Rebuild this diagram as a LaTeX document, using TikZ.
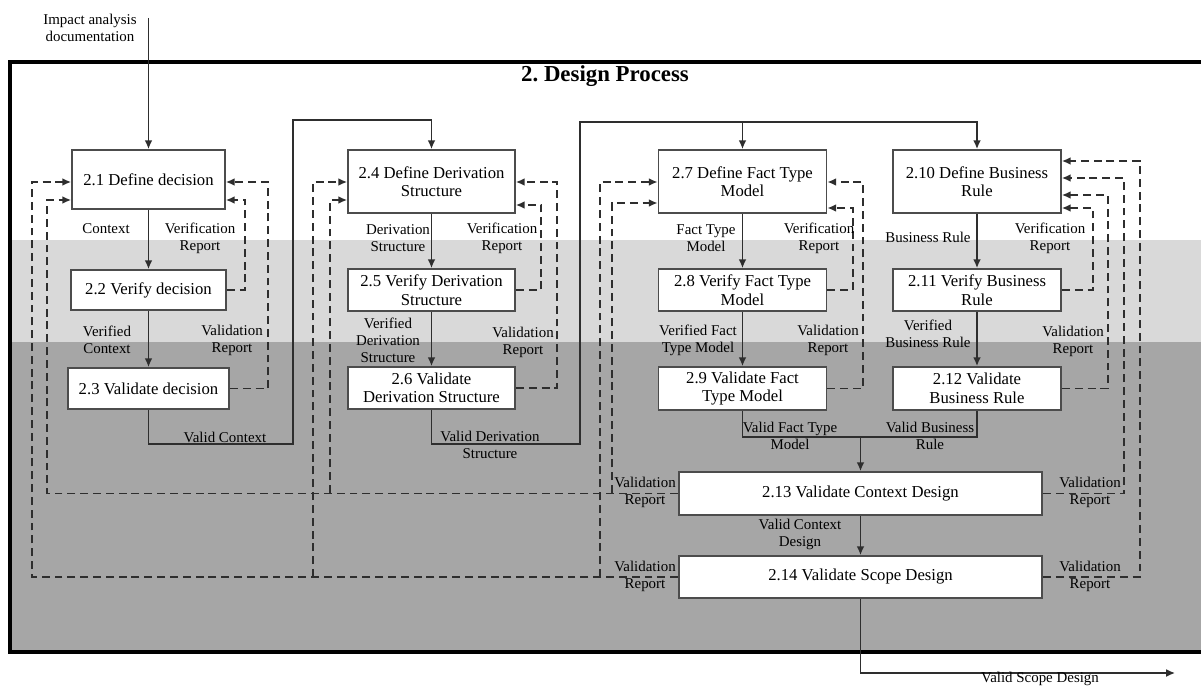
\documentclass[tikz,border=0pt]{standalone}
\usepackage{fontspec}
\setmainfont{Liberation Serif}
\usetikzlibrary{arrows.meta}
\definecolor{lightband}{HTML}{D9D9D9}
\definecolor{darkband}{HTML}{A6A6A6}
\definecolor{linegray}{HTML}{2E2E2E}
\tikzset{procbox/.style={draw=black!70,line width=1.1pt,fill=white,align=center,inner sep=0pt,
                         font=\fontsize{9.5}{10.5}\selectfont},
         lbl/.style={align=center,inner sep=0pt,font=\fontsize{8.5}{9.6}\selectfont},
         flowline/.style={draw=linegray,line width=0.85pt},
         flow/.style={flowline,-{Latex[length=5pt,width=4.5pt]}},
         feedback/.style={flow,dash pattern=on 4.5pt off 2.8pt},
         }
\begin{document}
\begin{tikzpicture}[x=0.02cm,y=-0.02cm]
\useasboundingbox (0,0) rectangle (1201,686);
% bands and frame
\fill[lightband] (10,240) rectangle (1210,342);
\fill[darkband] (10,342) rectangle (1210,652);
\draw[line width=2pt] (10,62) rectangle (1215,652);
\node[font=\bfseries\fontsize{13}{15}\selectfont] (title) at (605,76) {2.\ Design Process};
% process boxes
\node[procbox,minimum width=3.06cm,minimum height=1.18cm] (p21) at (148.5,179.5) {2.1 Define decision};
\node[procbox,minimum width=3.10cm,minimum height=0.80cm] (p22) at (148.5,290) {2.2 Verify decision};
\node[procbox,minimum width=3.22cm,minimum height=0.82cm] (p23) at (148.5,388.5) {2.3 Validate decision};
\node[procbox,minimum width=3.34cm,minimum height=1.26cm] (p24) at (431.5,181.5) {2.4 Define Derivation\\Structure};
\node[procbox,minimum width=3.34cm,minimum height=0.84cm] (p25) at (431.5,290) {2.5 Verify Derivation\\Structure};
\node[procbox,minimum width=3.34cm,minimum height=0.84cm] (p26) at (431.5,388) {2.6 Validate\\Derivation Structure};
\node[procbox,minimum width=3.36cm,minimum height=1.26cm] (p27) at (742.5,181.5) {2.7 Define Fact Type\\Model};
\node[procbox,minimum width=3.36cm,minimum height=0.84cm] (p28) at (742.5,290) {2.8 Verify Fact Type\\Model};
\node[procbox,minimum width=3.36cm,minimum height=0.86cm] (p29) at (742.5,388.5) {2.9 Validate Fact\\Type Model};
\node[procbox,minimum width=3.36cm,minimum height=1.26cm] (p210) at (977,181.5) {2.10 Define Business\\Rule};
\node[procbox,minimum width=3.36cm,minimum height=0.84cm] (p211) at (977,290) {2.11 Verify Business\\Rule};
\node[procbox,minimum width=3.36cm,minimum height=0.86cm] (p212) at (977,388.5) {2.12 Validate\\Business Rule};
\node[procbox,minimum width=7.26cm,minimum height=0.86cm] (p213) at (860.5,493.5) {2.13 Validate Context Design};
\node[procbox,minimum width=7.26cm,minimum height=0.84cm] (p214) at (860.5,577) {2.14 Validate Scope Design};
% input and output
\node[lbl] (input) at (90,28) {Impact analysis\\documentation};
\coordinate (inp) at (148.5,18);
\coordinate (outp) at (1175,673);
\draw[flow] (inp) -- (p21.north);
% main flow
\draw[flow] (p21) -- (p22);
\draw[flow] (p22) -- (p23);
\draw[flow] (p23.south) |- (293,444) |- (p24.north |- 0,120) -- (p24.north);
\draw[flow] (p24) -- (p25);
\draw[flow] (p25) -- (p26);
\draw[flow] (p26.south) |- (580,444) |- (p210.north |- 0,122) -- (p210.north);
\draw[flow] (p27.north |- 0,122) -- (p27.north);
\draw[flow] (p27) -- (p28);
\draw[flow] (p28) -- (p29);
\draw[flow] (p210) -- (p211);
\draw[flow] (p211) -- (p212);
\draw[flowline] (p29.south) |- (p212.south |- 0,437) -- (p212.south);
\draw[flow] (p213.north |- 0,437) -- (p213.north);
\draw[flow] (p213) -- (p214);
\draw[flow] (p214.south) |- (outp);
% feedback loops
\draw[feedback] (p22.east) -| (245,200) -- (p21.east |- 0,200);
\draw[feedback] (p23.east) -| (268,182) -- (p21.east |- 0,182);
\draw[feedback] (p25.east) -| (541,205) -- (p24.east |- 0,205);
\draw[feedback] (p26.east) -| (557,182) -- (p24.east |- 0,182);
\draw[feedback] (p28.east) -| (853,208) -- (p27.east |- 0,208);
\draw[feedback] (p29.east) -| (863,182) -- (p27.east |- 0,182);
\draw[feedback] (p211.east) -| (1093,208) -- (p210.east |- 0,208);
\draw[feedback] (p212.east) -| (1108,195) -- (p210.east |- 0,195);
\draw[feedback] (p213.east) -| (1124,178) -- (p210.east |- 0,178);
\draw[feedback] (p214.east) -| (1140,161) -- (p210.east |- 0,161);
\coordinate (ctxa) at (330,493);
\coordinate (ctxb) at (612,493);
\coordinate (scpa) at (313,577);
\coordinate (scpb) at (600,577);
\draw[feedback] (p213.west) -| (47,350) |- (p21.west |- 0,200);
\draw[feedback] (ctxa) |- (p24.west |- 0,200);
\draw[feedback] (ctxb) |- (p27.west |- 0,203);
\draw[feedback] (p214.west) -| (32,350) |- (p21.west |- 0,182);
\draw[feedback] (scpa) |- (p24.west |- 0,182);
\draw[feedback] (scpb) |- (p27.west |- 0,182);
% labels
\node[lbl] (l1) at (106,229) {Context};
\node[lbl] (l2) at (200,238) {Verification\\Report};
\node[lbl] (l3) at (107,340) {Verified\\Context};
\node[lbl] (l4) at (232,340) {Validation\\Report};
\node[lbl] (l5) at (398,238) {Derivation\\Structure};
\node[lbl] (l6) at (502,238) {Verification\\Report};
\node[lbl] (l7) at (388,340) {Verified\\Derivation\\Structure};
\node[lbl] (l8) at (523,342) {Validation\\Report};
\node[lbl] (l9) at (706,238) {Fact Type\\Model};
\node[lbl] (l10) at (819,238) {Verification\\Report};
\node[lbl] (l11) at (698,340) {Verified Fact\\Type Model};
\node[lbl] (l12) at (828,340) {Validation\\Report};
\node[lbl] (l13) at (928,237) {Business Rule};
\node[lbl] (l14) at (1050,238) {Verification\\Report};
\node[lbl] (l15) at (928,334) {Verified\\Business Rule};
\node[lbl] (l16) at (1073,341) {Validation\\Report};
\node[lbl] (l17) at (225,437) {Valid Context};
\node[lbl] (l18) at (490,445) {Valid Derivation\\Structure};
\node[lbl] (l19) at (790,436) {Valid Fact Type\\Model};
\node[lbl] (l20) at (930,436) {Valid Business\\Rule};
\node[lbl] (l21) at (800,534) {Valid Context\\Design};
\node[lbl] (l22) at (645,492) {Validation\\Report};
\node[lbl] (l23) at (1090,492) {Validation\\Report};
\node[lbl] (l24) at (645,576) {Validation\\Report};
\node[lbl] (l25) at (1090,576) {Validation\\Report};
\node[lbl] (l26) at (1040,679) {Valid Scope Design};
\end{tikzpicture}
\end{document}
